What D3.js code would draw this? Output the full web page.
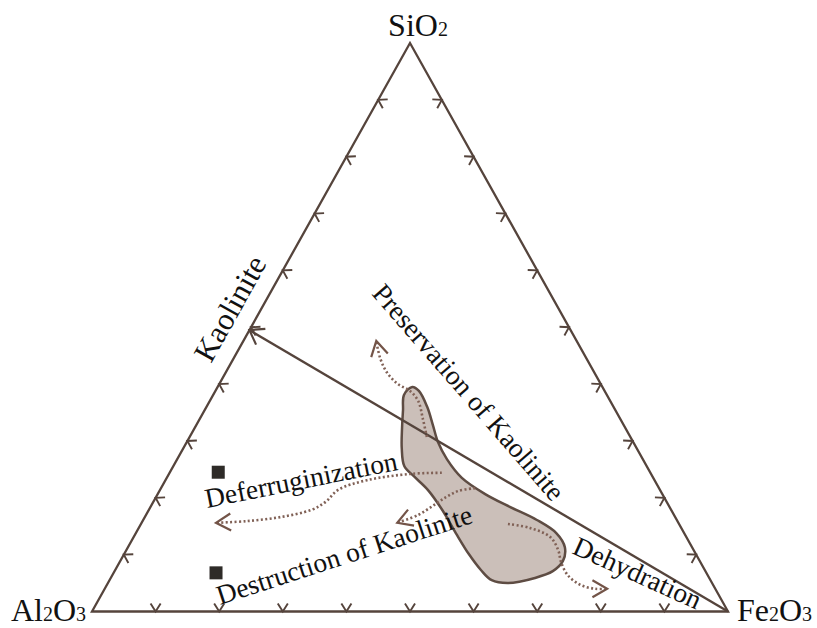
<!DOCTYPE html>
<html>
<head>
<meta charset="utf-8">
<script src="https://cdn.jsdelivr.net/npm/d3@7"></script>
<style>
  body { margin: 0; background: #fff; }
  svg { display: block; }
</style>
</head>
<body>
<div id="chart"></div>
<script>
// Ternary diagram SiO2 - Al2O3 - Fe2O3
const width = 817;
const height = 628;

// All compositions in percent as [SiO2, Fe2O3]; Al2O3 = 100 - SiO2 - Fe2O3
const tickValues = [10, 20, 30, 40, 50, 60, 70, 80, 90];

const kaolinite = [49.5, 0];
const fe2o3End = [0, 100];

const samples = [[24.5, 7.6], [6.8, 16.1]];

// outline of the shaded field
const field = [
  [38.1, 30.0], [39.5, 30.6], [38.8, 32.0], [36.0, 34.7], [32.8, 37.2],
  [29.8, 39.5], [26.8, 42.4], [23.5, 46.4], [20.7, 51.4], [18.4, 56.5],
  [16.1, 61.9], [13.8, 66.1], [11.3, 68.7], [8.9, 69.6], [7.1, 68.9],
  [5.9, 66.7], [5.0, 62.9], [5.5, 60.1], [7.3, 57.5], [10.1, 54.2],
  [13.8, 50.3], [17.9, 46.1], [21.4, 42.1], [23.8, 38.7], [25.6, 36.3],
  [28.8, 34.3], [32.3, 32.6], [35.4, 31.2]
];

// dotted trend arrows (last point is the arrow tip)
const preservation = [[30.7, 37.3], [34.0, 35.0], [37.0, 32.8], [38.8, 30.6], [40.0, 28.1], [42.0, 25.4], [44.6, 23.0], [47.6, 20.9]];
const deferruginization = [[24.4, 42.8], [24.2, 37.9], [23.1, 31.7], [21.4, 28.0], [19.3, 27.1], [17.9, 25.6], [16.6, 21.3], [15.9, 16.4], [15.6, 11.7]];
const destruction = [[21.7, 49.4], [21.2, 47.0], [20.1, 45.6], [18.7, 44.4], [17.0, 42.8], [15.6, 40.2]];
const dehydration = [[15.4, 57.7], [14.7, 61.5], [13.1, 65.5], [10.8, 67.9], [8.7, 69.4], [6.4, 71.6], [4.7, 74.4], [4.0, 77.1], [4.0, 79.0]];

const trendLabels = ["Preservation of Kaolinite", "Deferruginization", "Destruction of Kaolinite", "Dehydration"];
const edgeLabel = "Kaolinite";

// scales: x runs along the Al2O3-Fe2O3 base, y is the SiO2 height
const x = d3.scaleLinear().domain([0, 100]).range([92, 728]);
const y = d3.scaleLinear().domain([0, 100]).range([611.5, 43]);
const proj = (d) => [x(d[1] + d[0] / 2), y(d[0])];

const lineColor = "#55443c";
const dotColor = "#806156";
const serif = "'Liberation Serif', 'Times New Roman', serif";

const svg = d3.select("#chart")
  .append("svg")
  .attr("width", width)
  .attr("height", height);

svg.append("rect").attr("width", width).attr("height", height).attr("fill", "#fff");

// draw an open chevron with its tip at p, pointing at angle (deg)
function chevron(g, p, angle, len, half, color, sw) {
  const a1 = (angle + 180 - half) * Math.PI / 180;
  const a2 = (angle + 180 + half) * Math.PI / 180;
  g.append("path")
    .attr("d", `M${p[0] + len * Math.cos(a1)},${p[1] + len * Math.sin(a1)}L${p[0]},${p[1]}L${p[0] + len * Math.cos(a2)},${p[1] + len * Math.sin(a2)}`)
    .attr("fill", "none")
    .attr("stroke", color)
    .attr("stroke-width", sw)
    .attr("stroke-linejoin", "miter");
}

const S = proj([100, 0]), A = proj([0, 0]), F = proj([0, 100]);

// shaded field
svg.append("path")
  .attr("d", d3.line().curve(d3.curveCatmullRomClosed)(field.map(proj)))
  .attr("fill", "#cbbfb9")
  .attr("stroke", "#5e4c43")
  .attr("stroke-width", 2.5);

// triangle
svg.append("path")
  .attr("d", `M${A}L${S}L${F}Z`)
  .attr("fill", "none")
  .attr("stroke", lineColor)
  .attr("stroke-width", 2.3)
  .attr("stroke-linejoin", "miter");

// edge ticks
const ticks = svg.append("g");
const leftNormal = Math.atan2(-(S[0] - A[0]), (S[1] - A[1])) * 180 / Math.PI;
const rightNormal = Math.atan2((S[0] - F[0]), -(S[1] - F[1])) * 180 / Math.PI;
tickValues.forEach((k) => {
  chevron(ticks, proj([0, k]), 90, 9.5, 32, lineColor, 1.9);
  chevron(ticks, proj([k, 0]), leftNormal, 9.5, 32, lineColor, 1.9);
  chevron(ticks, proj([k, 100 - k]), rightNormal, 9.5, 32, lineColor, 1.9);
});

// kaolinite - Fe2O3 join
const kp = proj(kaolinite), fp = proj(fe2o3End);
svg.append("line")
  .attr("x1", fp[0]).attr("y1", fp[1])
  .attr("x2", kp[0]).attr("y2", kp[1])
  .attr("stroke", lineColor)
  .attr("stroke-width", 2.4);
chevron(svg, kp, Math.atan2(kp[1] - fp[1], kp[0] - fp[0]) * 180 / Math.PI, 16, 35, lineColor, 2.2);

// dotted arrows
[preservation, deferruginization, destruction, dehydration].forEach((pts) => {
  const p = pts.map(proj);
  svg.append("path")
    .attr("d", d3.line().curve(d3.curveCatmullRom)(p))
    .attr("fill", "none")
    .attr("stroke", dotColor)
    .attr("stroke-width", 2.6)
    .attr("stroke-dasharray", "2,2.4");
  const a = p[p.length - 2], b = p[p.length - 1];
  chevron(svg, b, Math.atan2(b[1] - a[1], b[0] - a[0]) * 180 / Math.PI, 17, 30, "#735448", 2.2);
});

// sample squares
svg.selectAll(".sample")
  .data(samples)
  .enter()
  .append("rect")
  .attr("class", "sample")
  .attr("x", (d) => proj(d)[0] - 6.5)
  .attr("y", (d) => proj(d)[1] - 6.5)
  .attr("width", 13)
  .attr("height", 13)
  .attr("fill", "#2e2b28");

// vertex labels with subscripts
function formula(parts, tx, ty, anchor) {
  const t = svg.append("text")
    .attr("x", tx).attr("y", ty)
    .attr("text-anchor", anchor)
    .attr("font-family", serif)
    .attr("font-size", 32)
    .attr("fill", "#111");
  parts.forEach(([s, sub]) => {
    t.append("tspan").attr("font-size", sub ? 20 : 32).text(s);
  });
}
formula([["SiO", 0], ["2", 1]], 418, 36, "middle");
formula([["Al", 0], ["2", 1], ["O", 0], ["3", 1]], 11, 621, "start");
formula([["Fe", 0], ["2", 1], ["O", 0], ["3", 1]], 737, 621, "start");

// edge label along the Al2O3 - SiO2 side
const edgeAngle = Math.atan2(S[1] - A[1], S[0] - A[0]) * 180 / Math.PI;
svg.append("text")
  .attr("transform", `translate(211,364) rotate(${edgeAngle})`)
  .attr("font-family", serif)
  .attr("font-size", 31)
  .attr("fill", "#111")
  .text(edgeLabel);

// trend labels
const labelLayout = [
  { x: 371, y: 294, r: 49 },
  { x: 207, y: 508, r: -11.3 },
  { x: 220, y: 605, r: -18 },
  { x: 571, y: 553, r: 24.4 }
];
trendLabels.forEach((txt, i) => {
  const l = labelLayout[i];
  svg.append("text")
    .attr("transform", `translate(${l.x},${l.y}) rotate(${l.r})`)
    .attr("font-family", serif)
    .attr("font-size", 27.5)
    .attr("fill", "#111")
    .text(txt);
});
</script>
</body>
</html>
